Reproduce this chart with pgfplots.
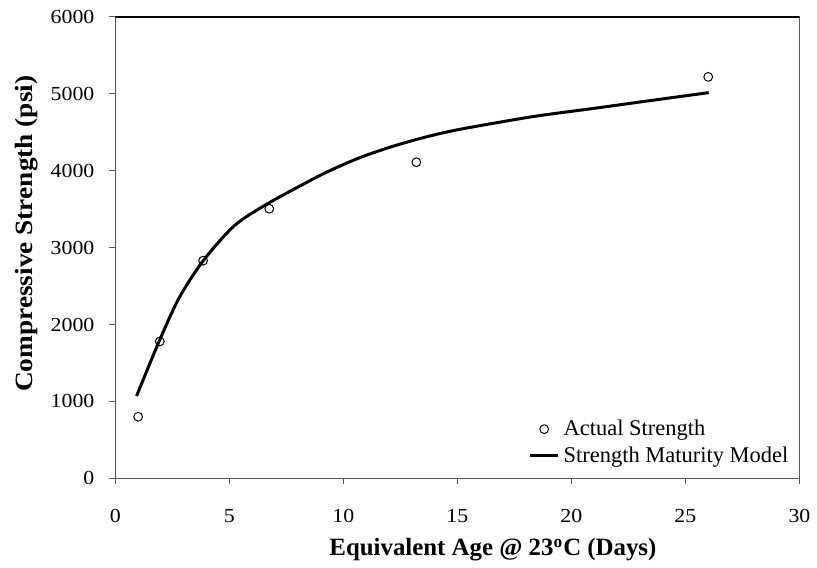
\documentclass[border=0pt]{standalone}
\usepackage{fontspec}
\setmainfont{Liberation Serif}
\newfontfamily\tickfont[FakeStretch=1.1]{Liberation Serif}
\newfontfamily\ylabfont[FakeStretch=1.1]{Liberation Serif}
\usepackage{pgfplots}
\pgfplotsset{compat=1.18}
\begin{document}
\begin{tikzpicture}
\begin{axis}[
  scale only axis,
  width=344pt, height=232pt,
  xmin=0, xmax=30, ymin=0, ymax=6000,
  xtick={0,5,...,30}, ytick={0,1000,...,6000},
  tick pos=left, tick align=outside,
  major tick length=3pt,
  tick style={gray!70!black, line width=0.5pt},
  axis line style={gray!70!black, line width=0.6pt},
  /pgf/number format/assume math mode=true,
  /pgf/number format/1000 sep={},
  ticklabel style={font=\tickfont\fontsize{10}{12}\selectfont},
  xticklabel style={yshift=-9pt},
  yticklabel style={xshift=-4pt},
  xlabel={\textbf{Equivalent Age @ 23\textsuperscript{o}C (Days)}},
  ylabel={\ylabfont\bfseries Compressive Strength (psi)},
  label style={font=\fontsize{12.5}{14}\selectfont},
  x label style={at={(axis description cs:0.552,-0.155)}, anchor=center},
  y label style={at={(axis description cs:-0.129,0.53)}, anchor=center},
  legend style={at={(axis description cs:0.993,0.015)}, anchor=south east, draw=none, fill=none,
    font=\fontsize{11.3}{13}\selectfont, row sep=0pt, inner sep=1pt,
    /tikz/every even column/.append style={column sep=0pt}},
  legend cell align=left,
  legend image code/.code={\draw[#1] (0pt,0pt) -- (14pt,0pt);},
]
\draw[black, line width=0.6pt] (rel axis cs:0,1) -- (rel axis cs:1,1);
\addplot[only marks, mark=o, mark size=2.2pt, mark options={line width=0.5pt, black},
  legend image code/.code={\draw[mark=o, mark size=2.2pt, mark options={line width=0.5pt, black}] plot coordinates {(7pt,0pt)};}]
  coordinates {(1,800) (1.95,1780) (3.85,2830) (6.75,3505) (13.2,4110) (26.0,5220)};
\addlegendentry{Actual Strength}
\addplot[black, line width=1.5pt, smooth, no marks]
  coordinates {(0.93,1070) (1.92,1781) (2.79,2342) (3.84,2824) (5.2,3280) (6.5,3540) (7.73,3743) (9.19,3970) (10.64,4160) (12.09,4310) (13.55,4433) (15.0,4532) (17.62,4670) (18.93,4730) (21.1,4815) (23.29,4905) (26.02,5015)};
\addlegendentry{Strength Maturity Model}
\end{axis}
\path (current axis.south west) ++(-58pt,-45pt) coordinate (bbA);
\path (current axis.north east) ++(6.5pt,8.5pt) coordinate (bbB);
\path (bbA) rectangle (bbB);
\end{tikzpicture}
\end{document}
